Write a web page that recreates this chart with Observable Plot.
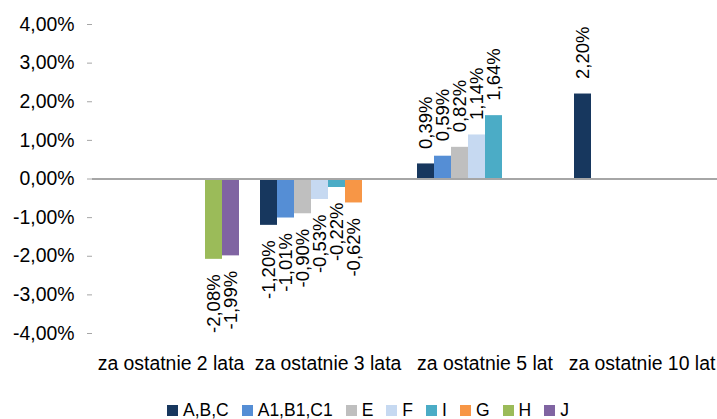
<!DOCTYPE html>
<html>
<head>
<meta charset="utf-8">
<script src="https://cdn.jsdelivr.net/npm/d3@7"></script>
<script src="https://cdn.jsdelivr.net/npm/@observablehq/plot@0.6"></script>
<style>
  html, body { margin: 0; padding: 0; background: #fff; overflow: hidden; }
  #chart svg { display: block; }
  #legend {
    height: 41px; display: flex; align-items: center; justify-content: flex-start;
    padding-left: 167px; box-sizing: border-box; width: 717px;
    font-family: "Liberation Sans", Arial, sans-serif; font-size: 17.5px; color: #000;
  }
  .item { display: flex; align-items: center; margin-right: 13px; }
  .sw { width: 11px; height: 11px; margin-right: 5px; }
</style>
</head>
<body>
<div id="chart"></div>
<div id="legend"></div>
<script>
const groups = ["za ostatnie 2 lata", "za ostatnie 3 lata", "za ostatnie 5 lat", "za ostatnie 10 lat"];
const series = ["A,B,C", "A1,B1,C1", "E", "F", "I", "G", "H", "J"];
const colors = ["#17375E", "#558ED5", "#BFBFBF", "#C6D9F1", "#4BACC6", "#F79646", "#9BBB59", "#8064A2"];

// values in % per group (null = no bar)
const valuesABC = [null, -1.20, 0.39, 2.20];
const valuesA1B1C1 = [null, -1.01, 0.59, null];
const valuesE = [null, -0.90, 0.82, null];
const valuesF = [null, -0.53, 1.14, null];
const valuesI = [null, -0.22, 1.64, null];
const valuesG = [null, -0.62, null, null];
const valuesH = [-2.08, null, null, null];
const valuesJ = [-1.99, null, null, null];
const yTicks = [-4, -3, -2, -1, 0, 1, 2, 3, 4];

const seriesValues = [valuesABC, valuesA1B1C1, valuesE, valuesF, valuesI, valuesG, valuesH, valuesJ];
const data = [];
series.forEach((s, i) => {
  seriesValues[i].forEach((v, j) => {
    if (v != null) data.push({series: s, group: groups[j], value: v});
  });
});

const fmt = v => (Math.abs(v) < 1e-9 ? 0 : v).toFixed(2).replace(".", ",") + "%";

const chart = Plot.plot({
  width: 717,
  height: 390,
  marginLeft: 91,
  marginRight: -4.5,
  marginTop: 24,
  marginBottom: 57,
  style: {fontFamily: "'Liberation Sans', Arial, sans-serif", fontSize: "19.4px", color: "#000", background: "#fff"},
  fx: {domain: groups, padding: 0, label: null},
  x: {domain: series, paddingInner: 0, paddingOuter: 0.5, axis: null},
  y: {domain: [-4, 4], axis: null},
  color: {domain: series, range: colors},
  marks: [
    Plot.axisY({ticks: yTicks, tickFormat: fmt, tickSize: 5, tickPadding: 13, stroke: "#A6A6A6", fill: "#000", label: null, anchor: "left", line: true}),
    Plot.axisFx({anchor: "bottom", tickSize: 0, tickPadding: 23, label: null, fill: "#000"}),
    Plot.barY(data, {fx: "group", x: "series", y: "value", fill: "series", inset: 0}),
    Plot.ruleY([0], {stroke: "#A6A6A6", strokeWidth: 1.8}),
    Plot.text(data, {filter: d => d.value > 0, fx: "group", x: "series", y: "value", text: d => fmt(d.value),
      rotate: -90, textAnchor: "start", lineAnchor: "middle", dy: -15, fontSize: 18.5, fill: "#000"}),
    Plot.text(data, {filter: d => d.value < 0, fx: "group", x: "series", y: "value", text: d => fmt(d.value),
      rotate: -90, textAnchor: "end", lineAnchor: "middle", dy: 15, fontSize: 18.5, fill: "#000"})
  ]
});
document.getElementById("chart").appendChild(chart);

const legend = document.getElementById("legend");
series.forEach((s, i) => {
  const item = document.createElement("div");
  item.className = "item";
  const sw = document.createElement("span");
  sw.className = "sw";
  sw.style.background = colors[i];
  const t = document.createElement("span");
  t.textContent = s;
  item.appendChild(sw);
  item.appendChild(t);
  legend.appendChild(item);
});
</script>
</body>
</html>
